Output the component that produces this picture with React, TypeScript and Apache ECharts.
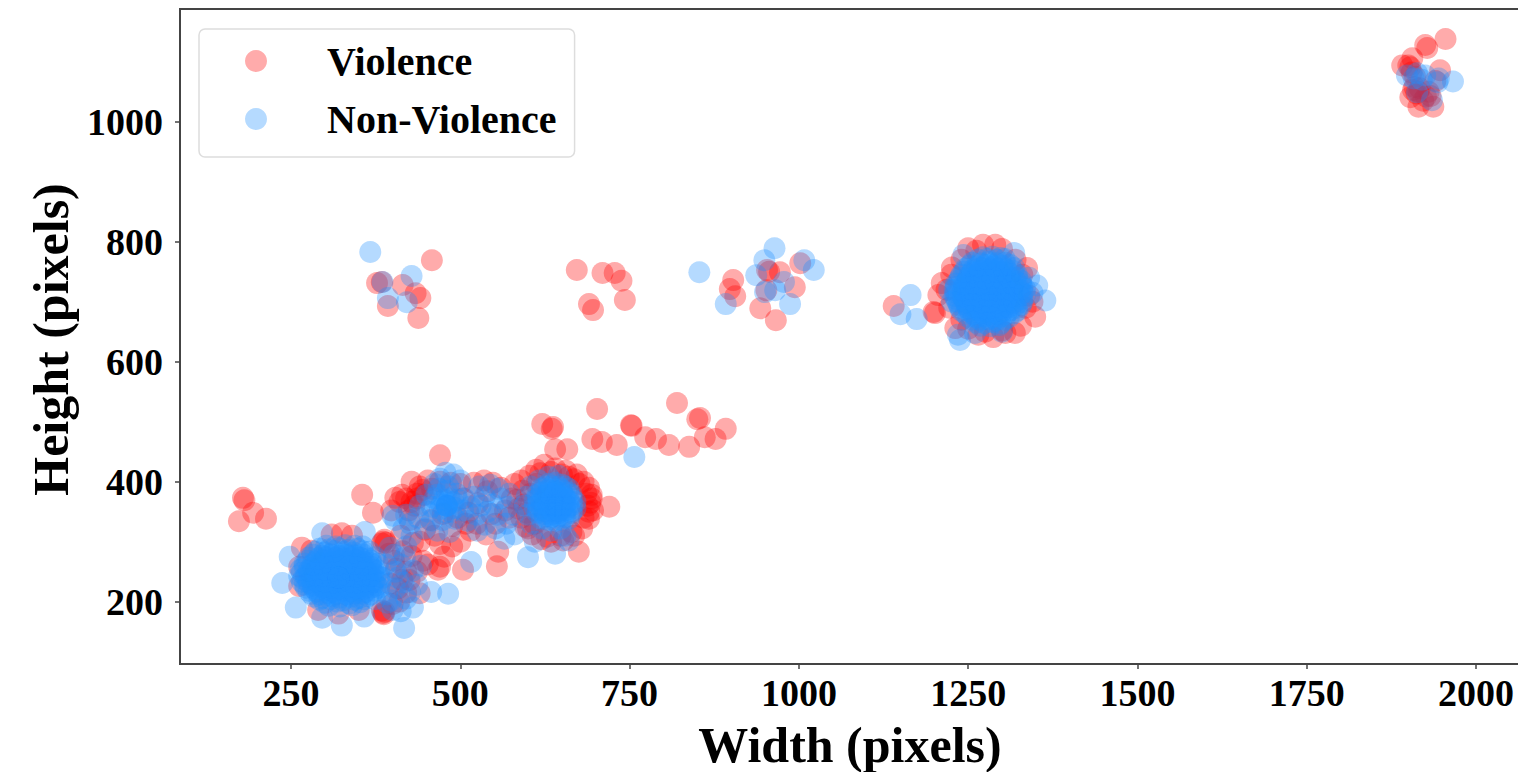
import React, { useEffect, useRef } from "react";
import * as echarts from "echarts";

const xTicks = [250, 500, 750, 1000, 1250, 1500, 1750, 2000];
const yTicks = [200, 400, 600, 800, 1000];

const violenceScattered = [
  [179,373],[181,369],[173,334],[194,348],[213,338],[355,378],[371,348],[470,444],[404,373],[428,400],
  [702,521],[820,531],[621,496],[637,491],[635,488],[752,494],[753,493],[854,506],[850,504],[892,488],
  [695,471],[709,466],[731,461],[773,474],[789,471],[808,461],[838,458],[861,474],[877,471],[640,454],
  [658,454],[720,358],[675,283],[554,259],[556,283],[476,275],[504,253],[467,253],[440,214],[414,236],
  [458,769],[377,731],[384,733],[393,693],[415,728],[434,714],[441,706],[438,673],
  [672,753],[710,748],[728,748],[738,735],[690,696],[696,686],[743,703],
  [903,736],[898,721],[906,709],[943,689],[966,669],[953,753],[956,750],[972,749],[994,724],[1002,764],[952,719],
  [1140,693],[1199,683],
];
const violenceTopRight = [
  [1955,1138],[1925,1128],[1928,1123],[1891,1094],[1906,1106],[1900,1094],[1903,1091],[1947,1086],
  [1907,1053],[1903,1041],[1915,1025],[1937,1025],[1912,1047],[1909,1058],[1926,1042],[1917,1056],[1933,1043],
  [1905,1082],[1910,1075],[1915,1050],[1922,1035],[1930,1050],[1940,1068],
];
const violenceLowCluster = [
  [386,181],[388,183],[384,185],[387,179],[386,300],[388,303],[384,297],[390,298],[325,314],[266,290],[310,312],[340,310],
  [280,285],[262,258],[262,226],[290,186],[320,180],[350,186],[410,200],[420,215],[405,255],[395,280],[412,310],[425,336],
  [432,360],[410,366],[420,372],[398,352],[440,392],[452,402],[436,380],[446,378],[424,352],[456,336],[462,310],[470,296],
  [488,292],[500,300],[515,318],[500,396],[520,398],[535,402],[548,398],[430,298],[445,268],[452,262],[470,258],[436,250],
  [420,250],[425,236],[408,222],[400,196],[396,230],[402,268],[415,284],[428,276],[440,300],[448,320],[436,372],[444,386],
  [428,366],[458,388],[414,378],[470,400],[486,398],[496,340],[488,326],[474,346],[504,372],[512,348],[524,330],[538,312],
  [552,330],[566,352],[576,372],[560,390],[540,384],[526,364],[546,346],[508,330],[580,396],[572,340],
];
const violence640Cluster = [
  [590,402],[584,370],[586,355],[590,340],[596,325],[606,312],[620,304],[634,300],[652,302],[668,310],[680,322],[690,338],
  [696,352],[694,372],[690,390],[682,400],[672,412],[656,418],[640,422],[624,428],[612,420],[602,410],[592,385],[594,362],
  [598,348],[610,330],[660,408],[676,396],[686,380],[688,360],[682,340],[664,316],[648,310],[628,308],[612,396],[604,380],
  [618,414],[634,416],[650,412],[668,404],[690,350],[692,365],[694,378],[600,322],
];
const violenceMainCluster = [
  [1290,795],[1250,789],[1272,795],[1337,756],[1349,675],[1319,648],[1287,641],[1201,681],[1206,711],[1211,731],[1226,757],
  [1231,656],[1262,785],[1300,788],[1320,770],[1330,745],[1340,710],[1335,690],[1300,652],[1275,650],[1250,655],[1240,670],
  [1222,690],[1218,720],[1225,745],[1240,770],[1305,648],[1265,645],[1345,700],[1328,660],
];

const nonViolenceScattered = [
  [367,783],[385,733],[393,706],[421,699],[428,743],[853,749],[892,696],[937,744],[949,769],[964,789],[1008,769],[1022,753],
  [987,696],[978,733],[950,716],[965,719],[1150,679],[1165,711],[1174,671],[757,441],
];
const nonViolenceTopRight = [
  [1966,1067],[1898,1077],[1913,1081],[1925,1077],[1943,1066],[1945,1072],[1913,1049],[1935,1036],[1908,1072],[1920,1070],
];
const nonViolenceLowEdge = [
  [257,190],[237,231],[248,275],[296,314],[359,316],[296,173],[325,160],[358,175],[417,156],[430,190],[457,216],[482,213],
  [516,266],[400,343],[398,202],[412,184],[404,222],[392,212],[420,205],[385,240],[412,262],[430,252],[402,278],[420,292],
  [396,290],[442,260],[436,228],[408,240],[374,204],[400,186],[392,198],[416,232],[426,216],[390,262],[404,250],[418,274],
];
const nonViolenceLowBlob = [
  [300,198],[318,200],[336,197],[352,199],[284,208],[296,206],[310,209],[322,207],[338,208],[350,206],[364,209],
  [276,218],[288,217],[300,219],[312,216],[326,218],[338,217],[348,219],[360,216],[372,218],
  [270,228],[282,227],[294,229],[306,226],[316,228],[330,227],[342,229],[354,226],[366,228],[376,227],
  [268,238],[280,237],[292,239],[304,236],[318,238],[328,237],[340,239],[352,236],[364,238],[374,237],
  [266,248],[278,247],[290,249],[302,246],[314,248],[326,247],[338,249],[350,246],[362,248],[372,247],
  [270,258],[282,257],[294,259],[306,256],[320,258],[332,257],[344,259],[356,256],[368,258],
  [274,268],[286,267],[298,269],[310,266],[322,268],[334,267],[346,269],[358,266],[368,268],
  [282,278],[296,277],[308,279],[320,276],[332,278],[344,277],[356,279],
  [292,288],[306,287],[320,289],[334,286],[348,288],
  [306,193],[322,192],[340,194],
  [292,203],[308,204],[326,202],[344,203],[358,204],
  [280,213],[292,212],[306,214],[318,213],[332,212],[344,214],[356,213],[368,212],
  [272,223],[284,222],[298,224],[310,223],[322,222],[334,224],[346,223],[358,222],[370,224],[380,223],
  [266,233],[276,232],[288,234],[300,233],[312,232],[324,234],[336,233],[348,232],[360,234],[372,233],[382,232],
  [262,243],[272,242],[286,244],[298,243],[310,242],[322,244],[334,243],[346,242],[358,244],[368,243],[380,242],
  [264,253],[276,252],[288,254],[300,253],[312,252],[324,254],[336,253],[348,252],[360,254],[372,253],[380,252],
  [270,263],[282,262],[294,264],[308,263],[320,262],[332,264],[344,263],[356,262],[368,264],[378,263],
  [276,273],[290,272],[302,274],[316,273],[328,272],[340,274],[352,273],[364,272],[374,274],
  [286,283],[300,282],[314,284],[328,283],[342,282],[356,284],[366,283],
  [302,293],[316,292],[330,294],[344,293],[356,292],
  [320,240],[320,240],[320,240],
];
const nonViolence480Cluster = [
  [480,360],[480,360],[480,360],[476,370],[490,366],[470,354],[486,350],[462,372],[494,380],[480,385],[468,388],[452,350],
  [458,335],[474,336],[492,338],[504,352],[506,372],[450,378],[440,360],[438,340],[426,330],[420,345],[470,405],[478,415],
  [490,412],[500,402],[462,396],[448,322],[466,318],[484,316],[428,310],[404,336],[416,322],
  [472,362],[484,372],[478,348],[466,378],[492,356],[482,392],[458,358],[496,370],
];
const nonViolence540Cluster = [
  [530,360],[540,350],[548,362],[536,375],[524,345],[555,345],[560,372],[520,375],[528,392],[544,395],[556,388],[570,358],
  [572,380],[536,328],[552,322],[525,318],[510,335],[515,358],[568,330],[578,345],[600,274],[580,312],[565,305],
];
const nonViolence640Cluster = [
  [620,338],[630,336],[640,335],[650,336],[660,338],[614,348],[624,346],[634,345],[644,347],[654,345],[664,348],
  [610,358],[620,356],[630,355],[640,357],[650,355],[660,358],[670,356],[610,368],[620,366],[630,365],[640,367],[650,365],
  [660,368],[670,366],[614,378],[624,376],[634,375],[644,377],[654,375],[664,378],[620,388],[630,386],[640,385],[650,386],
  [660,388],[630,396],[640,398],[650,395],[640,360],[640,360],[640,360],[640,360],[630,408],[645,410],
  [600,345],[595,360],[598,375],[605,330],[620,322],[634,318],[648,322],[655,310],[640,280],[610,300],[660,302],[604,392],[616,402],
  [625,342],[635,341],[645,342],[655,341],[615,352],[625,351],[635,352],[645,351],[655,352],[665,351],
  [615,362],[625,361],[635,362],[645,361],[655,362],[665,361],[615,372],[625,371],[635,372],[645,371],[655,372],[665,371],
  [620,382],[630,381],[640,382],[650,381],[660,382],[625,391],[635,392],[645,391],[655,392],
];
const nonViolenceMainBlob = [
  [1262,665],[1274,664],[1286,666],[1298,664],[1250,675],[1262,674],[1274,676],[1286,674],[1298,675],[1310,674],
  [1240,685],[1252,684],[1264,686],[1276,684],[1288,685],[1300,684],[1312,686],[1322,685],
  [1236,695],[1248,694],[1260,696],[1272,694],[1284,695],[1296,694],[1308,696],[1320,694],[1328,695],
  [1232,705],[1244,704],[1256,706],[1268,704],[1280,705],[1292,704],[1304,706],[1316,704],[1330,705],
  [1232,715],[1244,714],[1256,716],[1268,714],[1280,715],[1292,714],[1304,716],[1316,714],[1330,715],
  [1232,725],[1244,724],[1256,726],[1268,724],[1280,725],[1292,724],[1304,726],[1316,724],[1330,725],
  [1236,735],[1248,734],[1260,736],[1272,734],[1284,735],[1296,734],[1308,736],[1320,734],[1328,735],
  [1240,745],[1252,744],[1264,746],[1276,744],[1288,745],[1300,744],[1312,746],[1322,745],
  [1246,755],[1258,754],[1270,756],[1282,754],[1294,755],[1306,754],[1318,756],
  [1256,765],[1268,764],[1280,766],[1292,764],[1304,765],[1272,774],[1286,775],[1298,773],
  [1268,660],[1282,659],[1296,661],
  [1256,670],[1268,669],[1280,671],[1292,669],[1304,670],
  [1246,680],[1258,679],[1270,681],[1282,679],[1294,680],[1306,679],[1318,681],
  [1238,690],[1250,689],[1262,691],[1274,689],[1286,690],[1298,689],[1310,691],[1322,690],
  [1234,700],[1246,699],[1258,701],[1270,699],[1282,700],[1294,699],[1306,701],[1318,699],[1330,700],
  [1230,710],[1242,709],[1254,711],[1266,709],[1278,710],[1290,709],[1302,711],[1314,709],[1326,710],[1334,711],
  [1230,720],[1242,719],[1254,721],[1266,719],[1278,720],[1290,719],[1302,721],[1314,719],[1326,720],[1334,721],
  [1232,730],[1244,729],[1256,731],[1268,729],[1280,730],[1292,729],[1304,731],[1316,729],[1328,730],
  [1238,740],[1250,739],[1262,741],[1274,739],[1286,740],[1298,739],[1310,741],[1322,740],
  [1244,750],[1256,749],[1268,751],[1280,749],[1292,750],[1304,749],[1316,751],
  [1252,760],[1264,759],[1276,761],[1288,759],[1300,760],[1312,761],
  [1264,770],[1278,771],[1292,770],[1304,771],
];
const nonViolenceMainEdge = [
  [1364,702],[1352,727],[1238,636],[1235,645],[1260,648],[1318,781],[1243,778],[1222,720],[1226,700],[1345,715],[1340,740],[1300,650],
];

const violence = [...violenceScattered, ...violenceTopRight, ...violenceLowCluster, ...violence640Cluster, ...violenceMainCluster];
const nonViolence = [
  ...nonViolenceScattered, ...nonViolenceTopRight, ...nonViolenceLowEdge, ...nonViolenceLowBlob,
  ...nonViolence480Cluster, ...nonViolence540Cluster, ...nonViolence640Cluster, ...nonViolenceMainBlob, ...nonViolenceMainEdge,
];

const FONT = "Liberation Serif";
const plain = (v: number) => String(v);

export default function App() {
  const ref = useRef<HTMLDivElement>(null);
  useEffect(() => {
    const chart = echarts.init(ref.current!, undefined, { renderer: "svg" });
    chart.setOption({
      animation: false,
      backgroundColor: "#fff",
      textStyle: { fontFamily: FONT },
      grid: { left: 180, top: 9, width: 1340, height: 655, show: true, borderColor: "#444", borderWidth: 2, containLabel: false, outerBoundsMode: "none" },
      legend: {
        left: 199,
        top: 29,
        orient: "vertical",
        padding: [12, 18, 18, 46],
        itemWidth: 22,
        itemHeight: 22,
        itemGap: 18,
        backgroundColor: "rgba(255,255,255,0.8)",
        borderColor: "#ddd",
        borderWidth: 1.5,
        borderRadius: 6,
        textStyle: { fontFamily: FONT, fontWeight: "bold", fontSize: 40, color: "#000", padding: [0, 0, 0, 55] },
      },
      xAxis: {
        type: "value",
        min: 86,
        max: 2065,
        name: "Width (pixels)",
        nameLocation: "middle",
        nameGap: 81,
        nameTextStyle: { fontFamily: FONT, fontWeight: "bold", fontSize: 50, color: "#000", verticalAlign: "middle" },
        splitLine: { show: false },
        axisLine: { show: true, onZero: false, lineStyle: { color: "#444", width: 2 } },
        axisTick: { show: true, length: 5, customValues: xTicks, lineStyle: { color: "#444", width: 1.5 } },
        axisLabel: { customValues: xTicks, formatter: plain, margin: 10, fontFamily: FONT, fontWeight: "bold", fontSize: 38, color: "#000" },
      },
      yAxis: {
        type: "value",
        min: 96,
        max: 1188,
        name: "Height (pixels)",
        nameLocation: "middle",
        nameGap: 128,
        nameRotate: 90,
        nameTextStyle: { fontFamily: FONT, fontWeight: "bold", fontSize: 50, color: "#000", verticalAlign: "middle", padding: [0, 6, 0, 0] },
        splitLine: { show: false },
        axisLine: { show: true, onZero: false, lineStyle: { color: "#444", width: 2 } },
        axisTick: { show: true, length: 5, customValues: yTicks, lineStyle: { color: "#444", width: 1.5 } },
        axisLabel: { customValues: yTicks, formatter: plain, margin: 17, fontFamily: FONT, fontWeight: "bold", fontSize: 38, color: "#000" },
      },
      series: [
        { name: "Violence", type: "scatter", data: violence, symbolSize: 22, itemStyle: { color: "rgb(255,0,0)", opacity: 0.33 } },
        { name: "Non-Violence", type: "scatter", data: nonViolence, symbolSize: 22, itemStyle: { color: "rgb(30,144,255)", opacity: 0.33 } },
      ],
    });
    return () => chart.dispose();
  }, []);
  return <div ref={ref} style={{ position: "fixed", left: 0, top: 0, width: 1518, height: 772 }} />;
}
